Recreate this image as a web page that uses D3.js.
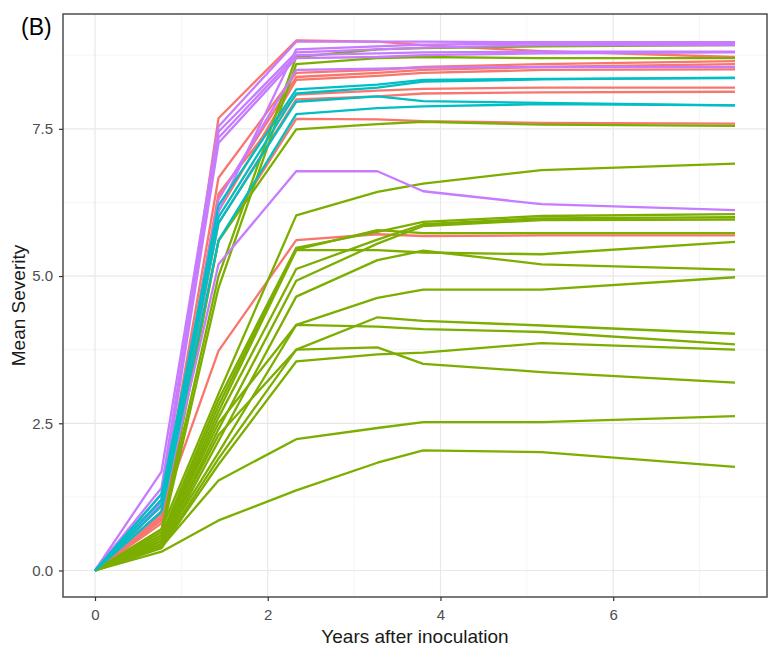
<!DOCTYPE html>
<html>
<head>
<meta charset="utf-8">
<script src="https://cdn.jsdelivr.net/npm/d3@7"></script>
<style>
  body { margin: 0; background: #fff; }
  svg { display: block; }
</style>
</head>
<body>
<div id="chart"></div>
<script>
// Observation times (years after inoculation)
const years = [0, 0.77, 1.43, 2.33, 3.27, 3.8, 5.17, 7.41];

// Mean severity per line, one array per colour group
const redSeries = [
    [0, 1.20, 7.68, 9.00, 8.98, 8.92, 8.82, 8.72],
    [0, 1.10, 6.67, 8.45, 8.50, 8.55, 8.60, 8.65],
    [0, 1.00, 6.33, 8.38, 8.45, 8.50, 8.55, 8.60],
    [0, 0.90, 6.10, 8.33, 8.40, 8.45, 8.50, 8.51],
    [0, 0.95, 6.40, 8.08, 8.15, 8.18, 8.20, 8.20],
    [0, 0.85, 5.90, 8.00, 8.05, 8.10, 8.12, 8.13],
    [0, 0.80, 5.60, 7.67, 7.66, 7.63, 7.60, 7.59],
    [0, 1.00, 3.73, 5.61, 5.71, 5.68, 5.69, 5.69]
];
const greenSeries = [
    [0, 0.70, 5.00, 8.72, 8.85, 8.87, 8.90, 8.92],
    [0, 0.60, 4.80, 8.60, 8.70, 8.72, 8.70, 8.70],
    [0, 0.65, 5.60, 7.49, 7.58, 7.62, 7.57, 7.55],
    [0, 0.70, 3.00, 6.03, 6.43, 6.57, 6.80, 6.91],
    [0, 0.60, 2.90, 5.48, 5.75, 5.92, 6.02, 6.05],
    [0, 0.50, 2.60, 5.12, 5.62, 5.88, 5.98, 6.00],
    [0, 0.45, 2.40, 4.92, 5.55, 5.85, 5.95, 5.96],
    [0, 0.55, 2.80, 5.45, 5.78, 5.73, 5.73, 5.73],
    [0, 0.50, 2.70, 5.44, 5.44, 5.40, 5.37, 5.58],
    [0, 0.40, 2.20, 4.65, 5.27, 5.43, 5.20, 5.11],
    [0, 0.45, 2.00, 4.17, 4.63, 4.77, 4.77, 4.98],
    [0, 0.50, 2.50, 4.17, 4.14, 4.10, 4.05, 3.84],
    [0, 0.40, 1.90, 3.75, 4.30, 4.24, 4.16, 4.02],
    [0, 0.45, 2.30, 3.75, 3.79, 3.51, 3.37, 3.19],
    [0, 0.38, 1.80, 3.55, 3.67, 3.70, 3.86, 3.75],
    [0, 0.40, 1.53, 2.23, 2.42, 2.52, 2.52, 2.62],
    [0, 0.32, 0.85, 1.36, 1.83, 2.04, 2.01, 1.76]
];
const purpleSeries = [
    [0, 1.68, 7.54, 8.98, 8.98, 8.98, 8.97, 8.97],
    [0, 1.15, 6.10, 8.85, 8.90, 8.93, 8.95, 8.96],
    [0, 1.40, 7.45, 8.80, 8.85, 8.88, 8.92, 8.92],
    [0, 1.30, 7.35, 8.75, 8.78, 8.80, 8.81, 8.81],
    [0, 1.20, 7.26, 8.70, 8.72, 8.75, 8.78, 8.80],
    [0, 1.10, 6.30, 8.50, 8.52, 8.54, 8.55, 8.55],
    [0, 1.00, 5.20, 6.78, 6.78, 6.44, 6.22, 6.12]
];
const cyanSeries = [
    [0, 1.30, 6.00, 8.10, 8.20, 8.30, 8.34, 8.37],
    [0, 1.20, 6.20, 8.17, 8.25, 8.33, 8.35, 8.36],
    [0, 1.10, 5.90, 7.96, 8.05, 7.97, 7.94, 7.90],
    [0, 1.00, 5.60, 7.75, 7.85, 7.88, 7.92, 7.90]
];

const xTicks = [0, 2, 4, 6];
const xMinor = [1, 3, 5, 7];
const yTicks = [0, 2.5, 5, 7.5];
const yMinor = [1.25, 3.75, 6.25, 8.75];

// draw order follows ggplot group order
const groups = [
    { color: "#F8766D", series: redSeries },
    { color: "#7CAE00", series: greenSeries },
    { color: "#C77CFF", series: purpleSeries },
    { color: "#00BFC4", series: cyanSeries }
];

const W = 779, H = 652;
const panel = { left: 63, right: 767, top: 14, bottom: 597 };

const svg = d3.select("#chart")
    .append("svg")
    .attr("width", W)
    .attr("height", H);

// ggplot style 5% expansion on both scales
const allValues = groups.flatMap(g => g.series.flat());
const yMax = d3.max(allValues), yMin = d3.min(allValues);
const xMax = d3.max(years), xMin = d3.min(years);
const xPad = (xMax - xMin) * 0.05, yPad = (yMax - yMin) * 0.05;

const x = d3.scaleLinear()
    .domain([xMin - xPad, xMax + xPad])
    .range([panel.left, panel.right]);

const y = d3.scaleLinear()
    .domain([yMin - yPad, yMax + yPad])
    .range([panel.bottom, panel.top]);

const pw = panel.right - panel.left, ph = panel.bottom - panel.top;

// Grid lines: minor first, then major
const grid = svg.append("g");
grid.selectAll(".vminor").data(xMinor).enter().append("line")
    .attr("x1", d => x(d)).attr("x2", d => x(d))
    .attr("y1", panel.top).attr("y2", panel.bottom)
    .attr("stroke", "#f0f0f0").attr("stroke-width", 0.7);
grid.selectAll(".hminor").data(yMinor).enter().append("line")
    .attr("x1", panel.left).attr("x2", panel.right)
    .attr("y1", d => y(d)).attr("y2", d => y(d))
    .attr("stroke", "#f0f0f0").attr("stroke-width", 0.7);
grid.selectAll(".vmajor").data(xTicks).enter().append("line")
    .attr("x1", d => x(d)).attr("x2", d => x(d))
    .attr("y1", panel.top).attr("y2", panel.bottom)
    .attr("stroke", "#e8e8e8").attr("stroke-width", 1.2);
grid.selectAll(".hmajor").data(yTicks).enter().append("line")
    .attr("x1", panel.left).attr("x2", panel.right)
    .attr("y1", d => y(d)).attr("y2", d => y(d))
    .attr("stroke", "#e8e8e8").attr("stroke-width", 1.2);

// Lines
const line = d3.line()
    .x((d, i) => x(years[i]))
    .y(d => y(d));

groups.forEach(g => {
    svg.append("g")
        .selectAll("path")
        .data(g.series)
        .enter()
        .append("path")
        .attr("fill", "none")
        .attr("stroke", g.color)
        .attr("stroke-width", 2.3)
        .attr("stroke-linejoin", "round")
        .attr("stroke-linecap", "butt")
        .attr("d", line);
});

// Panel border
svg.append("rect")
    .attr("x", panel.left).attr("y", panel.top)
    .attr("width", pw).attr("height", ph)
    .attr("fill", "none")
    .attr("stroke", "#4d4d4d")
    .attr("stroke-width", 1.5);

// Axes
const xAxis = svg.append("g")
    .attr("transform", `translate(0,${panel.bottom})`)
    .call(d3.axisBottom(x).tickValues(xTicks).tickFormat(d3.format("d")).tickSize(4).tickPadding(8));

const yAxis = svg.append("g")
    .attr("transform", `translate(${panel.left},0)`)
    .call(d3.axisLeft(y).tickValues(yTicks).tickFormat(d3.format(".1f")).tickSize(4).tickPadding(6));

[xAxis, yAxis].forEach(a => {
    a.select(".domain").remove();
    a.selectAll(".tick line").attr("stroke", "#333").attr("stroke-width", 1.2);
    a.selectAll(".tick text")
        .attr("fill", "#4d4d4d")
        .style("font-family", "'Liberation Sans', Arial, sans-serif")
        .style("font-size", "15px");
});

// Axis titles
svg.append("text")
    .attr("x", (panel.left + panel.right) / 2)
    .attr("y", 643)
    .attr("text-anchor", "middle")
    .style("font-family", "'Liberation Sans', Arial, sans-serif")
    .style("font-size", "19px")
    .attr("fill", "#1a1a1a")
    .text("Years after inoculation");

svg.append("text")
    .attr("transform", `translate(25,${(panel.top + panel.bottom) / 2}) rotate(-90)`)
    .attr("text-anchor", "middle")
    .style("font-family", "'Liberation Sans', Arial, sans-serif")
    .style("font-size", "19px")
    .attr("fill", "#1a1a1a")
    .text("Mean Severity");

// Panel tag
svg.append("text")
    .attr("x", 21)
    .attr("y", 35)
    .style("font-family", "'Liberation Sans', Arial, sans-serif")
    .style("font-size", "23px")
    .attr("fill", "#000")
    .text("(B)");
</script>
</body>
</html>
